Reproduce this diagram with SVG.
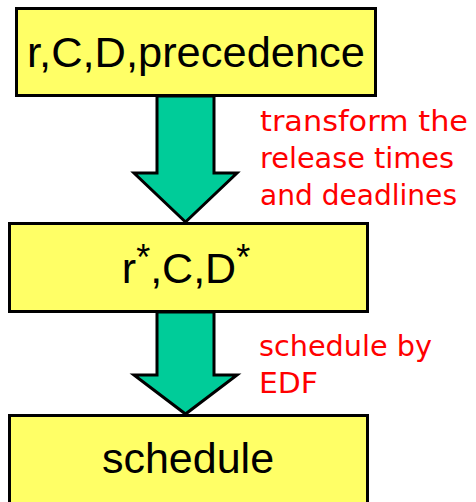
<svg xmlns="http://www.w3.org/2000/svg" width="476" height="502" viewBox="0 0 476 502">
  <style>
    .box { fill: #FFFF66; stroke: #000; stroke-width: 3; }
    .big { font-family: "Liberation Sans", Arial, sans-serif; font-size: 43px; fill: #000; text-anchor: middle; }
    .sup { font-size: 36px; }
    .note { font-family: "DejaVu Sans", sans-serif; font-size: 29px; fill: #FF0000; }
    .flow { fill: #00CC99; stroke: #000; stroke-width: 3; stroke-linejoin: miter; }
  </style>
  <rect width="476" height="502" fill="#FFFFFF"/>

  <g id="connectors">
    <path class="flow" d="M157,96 H214 V173 H237 L185.5,222 L134,173 H157 Z"/>
    <path class="flow" d="M157,312 H214 V375 H237 L185.5,414 L134,375 H157 Z"/>
    <text class="note" x="260" y="131" textLength="208" lengthAdjust="spacingAndGlyphs">transform the</text>
    <text class="note" x="260" y="168" textLength="194" lengthAdjust="spacingAndGlyphs">release times</text>
    <text class="note" x="260" y="205" textLength="197" lengthAdjust="spacingAndGlyphs">and deadlines</text>
    <text class="note" x="259" y="356" textLength="173" lengthAdjust="spacingAndGlyphs">schedule by</text>
    <text class="note" x="259" y="393" textLength="59" lengthAdjust="spacingAndGlyphs">EDF</text>
  </g>

  <g id="node-input">
    <rect class="box" x="16.5" y="8.5" width="359" height="87"/>
    <text class="big" x="196" y="67" textLength="338" lengthAdjust="spacingAndGlyphs">r,C,D,precedence</text>
  </g>

  <g id="node-transformed">
    <rect class="box" x="9.5" y="223.5" width="358" height="88"/>
    <text class="big" x="186" y="283">r<tspan class="sup" dy="-13">*</tspan><tspan dy="13">,C,D</tspan><tspan class="sup" dy="-13">*</tspan></text>
  </g>

  <g id="node-schedule">
    <rect class="box" x="9.5" y="415.5" width="358" height="100"/>
    <text class="big" x="188" y="473">schedule</text>
  </g>
</svg>
